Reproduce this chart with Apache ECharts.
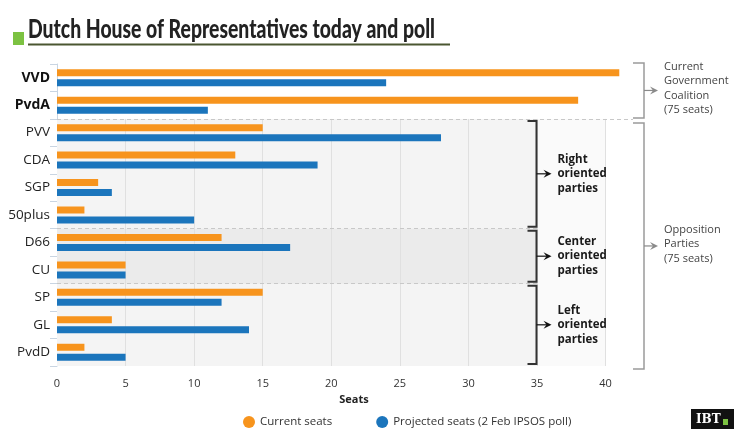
<!DOCTYPE html>
<html><head><meta charset="utf-8">
<script src="https://cdn.jsdelivr.net/npm/echarts@6/dist/echarts.min.js"></script>
<style>html,body{margin:0;padding:0;background:#fff}#c{width:736px;height:432px}</style>
</head><body><div id="c"></div>
<script>
const categories = ['VVD','PvdA','PVV','CDA','SGP','50plus','D66','CU','SP','GL','PvdD'];
const currentSeats = [41,38,15,13,3,2,12,5,15,4,2];
const projectedSeats = [24,11,28,19,4,10,17,5,12,14,5];
const seriesNames = ['Current seats','Projected seats (2 Feb IPSOS poll)'];
const governmentParties = ['VVD','PvdA'];
const xTickValues = [5,10,15,20,25,30,35,40];
const titleText = 'Dutch House of Representatives today and poll';
const blocs = [
  {lines:['Current','Government','Coalition','(75 seats)'], from:0, to:2},
  {lines:['Opposition','Parties','(75 seats)'], from:2, to:11}
];
const orientations = [
  {lines:['Right','oriented','parties'], from:2, to:6},
  {lines:['Center','oriented','parties'], from:6, to:8},
  {lines:['Left','oriented','parties'], from:8, to:11}
];

const FONT = '"Open Sans", sans-serif';
const GRID = {left:57, top:64, width:576, height:302};
const X_MAX = 42;
const chart = echarts.init(document.getElementById('c'), null, {renderer:'canvas'});

const gridLines = xTickValues.map(v => [{coord:[v,2]},{coord:[v,11]}]);
const dashed = [
  [{coord:[0,2]},{coord:[42,2]}],
  [{coord:[0,6]},{coord:[35,6]}],
  [{coord:[0,8]},{coord:[35,8]}]
];

chart.setOption({
  animation:false,
  backgroundColor:'#fff',
  legend:{
    data:seriesNames, left:238, top:411, icon:'circle', itemWidth:12, itemHeight:12, itemGap:44,
    textStyle:{fontFamily:FONT, fontSize:11.5, color:'#333'}
  },
  grid:GRID,
  xAxis:{
    type:'value', min:0, max:X_MAX, interval:5,
    axisLine:{show:false}, axisTick:{show:false}, splitLine:{show:false},
    axisLabel:{fontFamily:FONT, fontSize:11, color:'#333', margin:12,
      formatter: v => (v <= 40 ? String(v) : '')},
    name:'Seats', nameLocation:'middle', nameGap:25,
    nameTextStyle:{fontFamily:FONT, fontWeight:'bold', fontSize:11, color:'#222', padding:[0,0,0,18]}
  },
  yAxis:[{
    type:'category', data:categories, inverse:true,
    axisLine:{show:true, lineStyle:{color:'#c9d5e2', width:1}},
    axisTick:{show:true, length:7, lineStyle:{color:'#c9d5e2'}},
    axisLabel:{margin:7, fontFamily:FONT, fontSize:13.5, color:'#222',
      formatter: v => governmentParties.includes(v) ? '{b|'+v+'}' : v,
      rich:{b:{fontFamily:FONT, fontSize:14, fontWeight:'bold', color:'#111'}}}
  },{
    type:'value', min:0, max:11, inverse:true, show:false
  }],
  series:[
    {
      name:'bands', type:'line', xAxisIndex:0, yAxisIndex:1, data:[], silent:true, z:1,
      markArea:{silent:true, z:1, data:[
        [{coord:[0,2], itemStyle:{color:'#f4f4f4'}},{coord:[35,11]}],
        [{coord:[35,2], itemStyle:{color:'#fafafa'}},{coord:[40,11]}],
        [{coord:[0,6], itemStyle:{color:'#ebebeb'}},{coord:[35,8]}]
      ]},
      markLine:{silent:true, z:1, symbol:'none', label:{show:false},
        lineStyle:{color:'#e0e0e0', width:1, type:'solid'},
        data: gridLines.concat(dashed.map(d => [Object.assign({lineStyle:{color:'#c8c8c8', type:[4,3], width:1}}, d[0]), d[1]]))
      }
    },
    {name:seriesNames[0], type:'bar', data:currentSeats, barWidth:7, barGap:'43%', z:6,
      itemStyle:{color:'#f7941d'}},
    {name:seriesNames[1], type:'bar', data:projectedSeats, barWidth:7, z:6,
      itemStyle:{color:'#1b75bc'}}
  ]
});

function py(v){
  const r = chart.convertToPixel({yAxisIndex:1}, v);
  return isFinite(r) ? r : GRID.top + v / 11 * GRID.height;
}
function px(v){
  let r = NaN;
  try { r = chart.convertToPixel({xAxisIndex:0}, v); } catch(e) {}
  if (Array.isArray(r)) r = r[0];
  return isFinite(r) ? r : GRID.left + v / X_MAX * GRID.width;
}

const g = [];
// title: fit a heavy font into the condensed width of the original
const TFONT = 'Lato, "Open Sans", sans-serif';
const ctx = document.createElement('canvas').getContext('2d');
ctx.font = '900 27px Lato';
const tw = ctx.measureText(titleText).width || 560;
const sx = 407 / tw;
g.push({type:'text', x:28, y:43, scaleX:sx, scaleY:1, originX:0, originY:0,
  style:{text:titleText, fontFamily:TFONT, fontWeight:900, fontSize:27, fill:'#222', verticalAlign:'bottom', align:'left'}});
g.push({type:'rect', shape:{x:13, y:32, width:11, height:13}, style:{fill:'#7cc242'}});
g.push({type:'line', shape:{x1:28, y1:44.5, x2:450, y2:44.5}, style:{stroke:'#4b5631', lineWidth:2}});

function arrowHead(tip, y, color){
  return {type:'polygon', shape:{points:[[tip,y],[tip-8,y-4],[tip-5,y],[tip-8,y+4]]}, style:{fill:color}};
}

// orientation brackets
const bx = Math.round(px(35)) - 0.5;
orientations.forEach(o => {
  const top = py(o.from) + 2, bot = py(o.to) - 2, mid = (top+bot)/2;
  g.push({type:'polyline', z:100, shape:{points:[[bx-9,top],[bx,top],[bx,bot],[bx-9,bot]]}, style:{stroke:'#333', lineWidth:2, fill:null}});
  g.push({type:'line', z:100, shape:{x1:bx, y1:mid, x2:bx+13, y2:mid}, style:{stroke:'#111', lineWidth:1.2}});
  g.push(Object.assign(arrowHead(bx+15, mid, '#111'), {z:100}));
  g.push({type:'text', z:100, x:bx+21, y:mid, style:{text:o.lines.join('\n'), fontFamily:FONT, fontWeight:'bold', fontSize:11.5, lineHeight:14.5, fill:'#1a1a1a', verticalAlign:'middle', align:'left'}});
});

// bloc brackets
const ox = 644;
blocs.forEach((b, i) => {
  const top = i === 0 ? py(b.from) - 1 : py(b.from) + 4;
  const bot = i === 0 ? py(b.to) - 1 : py(b.to) + 3;
  const mid = (top+bot)/2;
  g.push({type:'polyline', shape:{points:[[ox-11,top],[ox,top],[ox,bot],[ox-11,bot]]}, style:{stroke:'#9a9a9a', lineWidth:1.5, fill:null}});
  g.push({type:'line', shape:{x1:ox, y1:mid, x2:ox+10, y2:mid}, style:{stroke:'#8a8a8a', lineWidth:1.2}});
  g.push(arrowHead(ox+14, mid, '#8a8a8a'));
  g.push({type:'text', x:664, y:mid - 2, style:{text:b.lines.join('\n'), fontFamily:FONT, fontSize:11, lineHeight:14.5, fill:'#444', verticalAlign:'middle', align:'left'}});
});

// IBT logo
g.push({type:'rect', shape:{x:691, y:409, width:43, height:20}, style:{fill:'#111'}});
g.push({type:'text', x:696, y:419.5, style:{text:'IBT', fontFamily:'"DejaVu Serif", serif', fontWeight:'bold', fontSize:12, fill:'#fff', verticalAlign:'middle'}});
g.push({type:'rect', shape:{x:723, y:419, width:5, height:6}, style:{fill:'#7cc242'}});

chart.setOption({graphic:{elements:g}});
</script></body></html>
